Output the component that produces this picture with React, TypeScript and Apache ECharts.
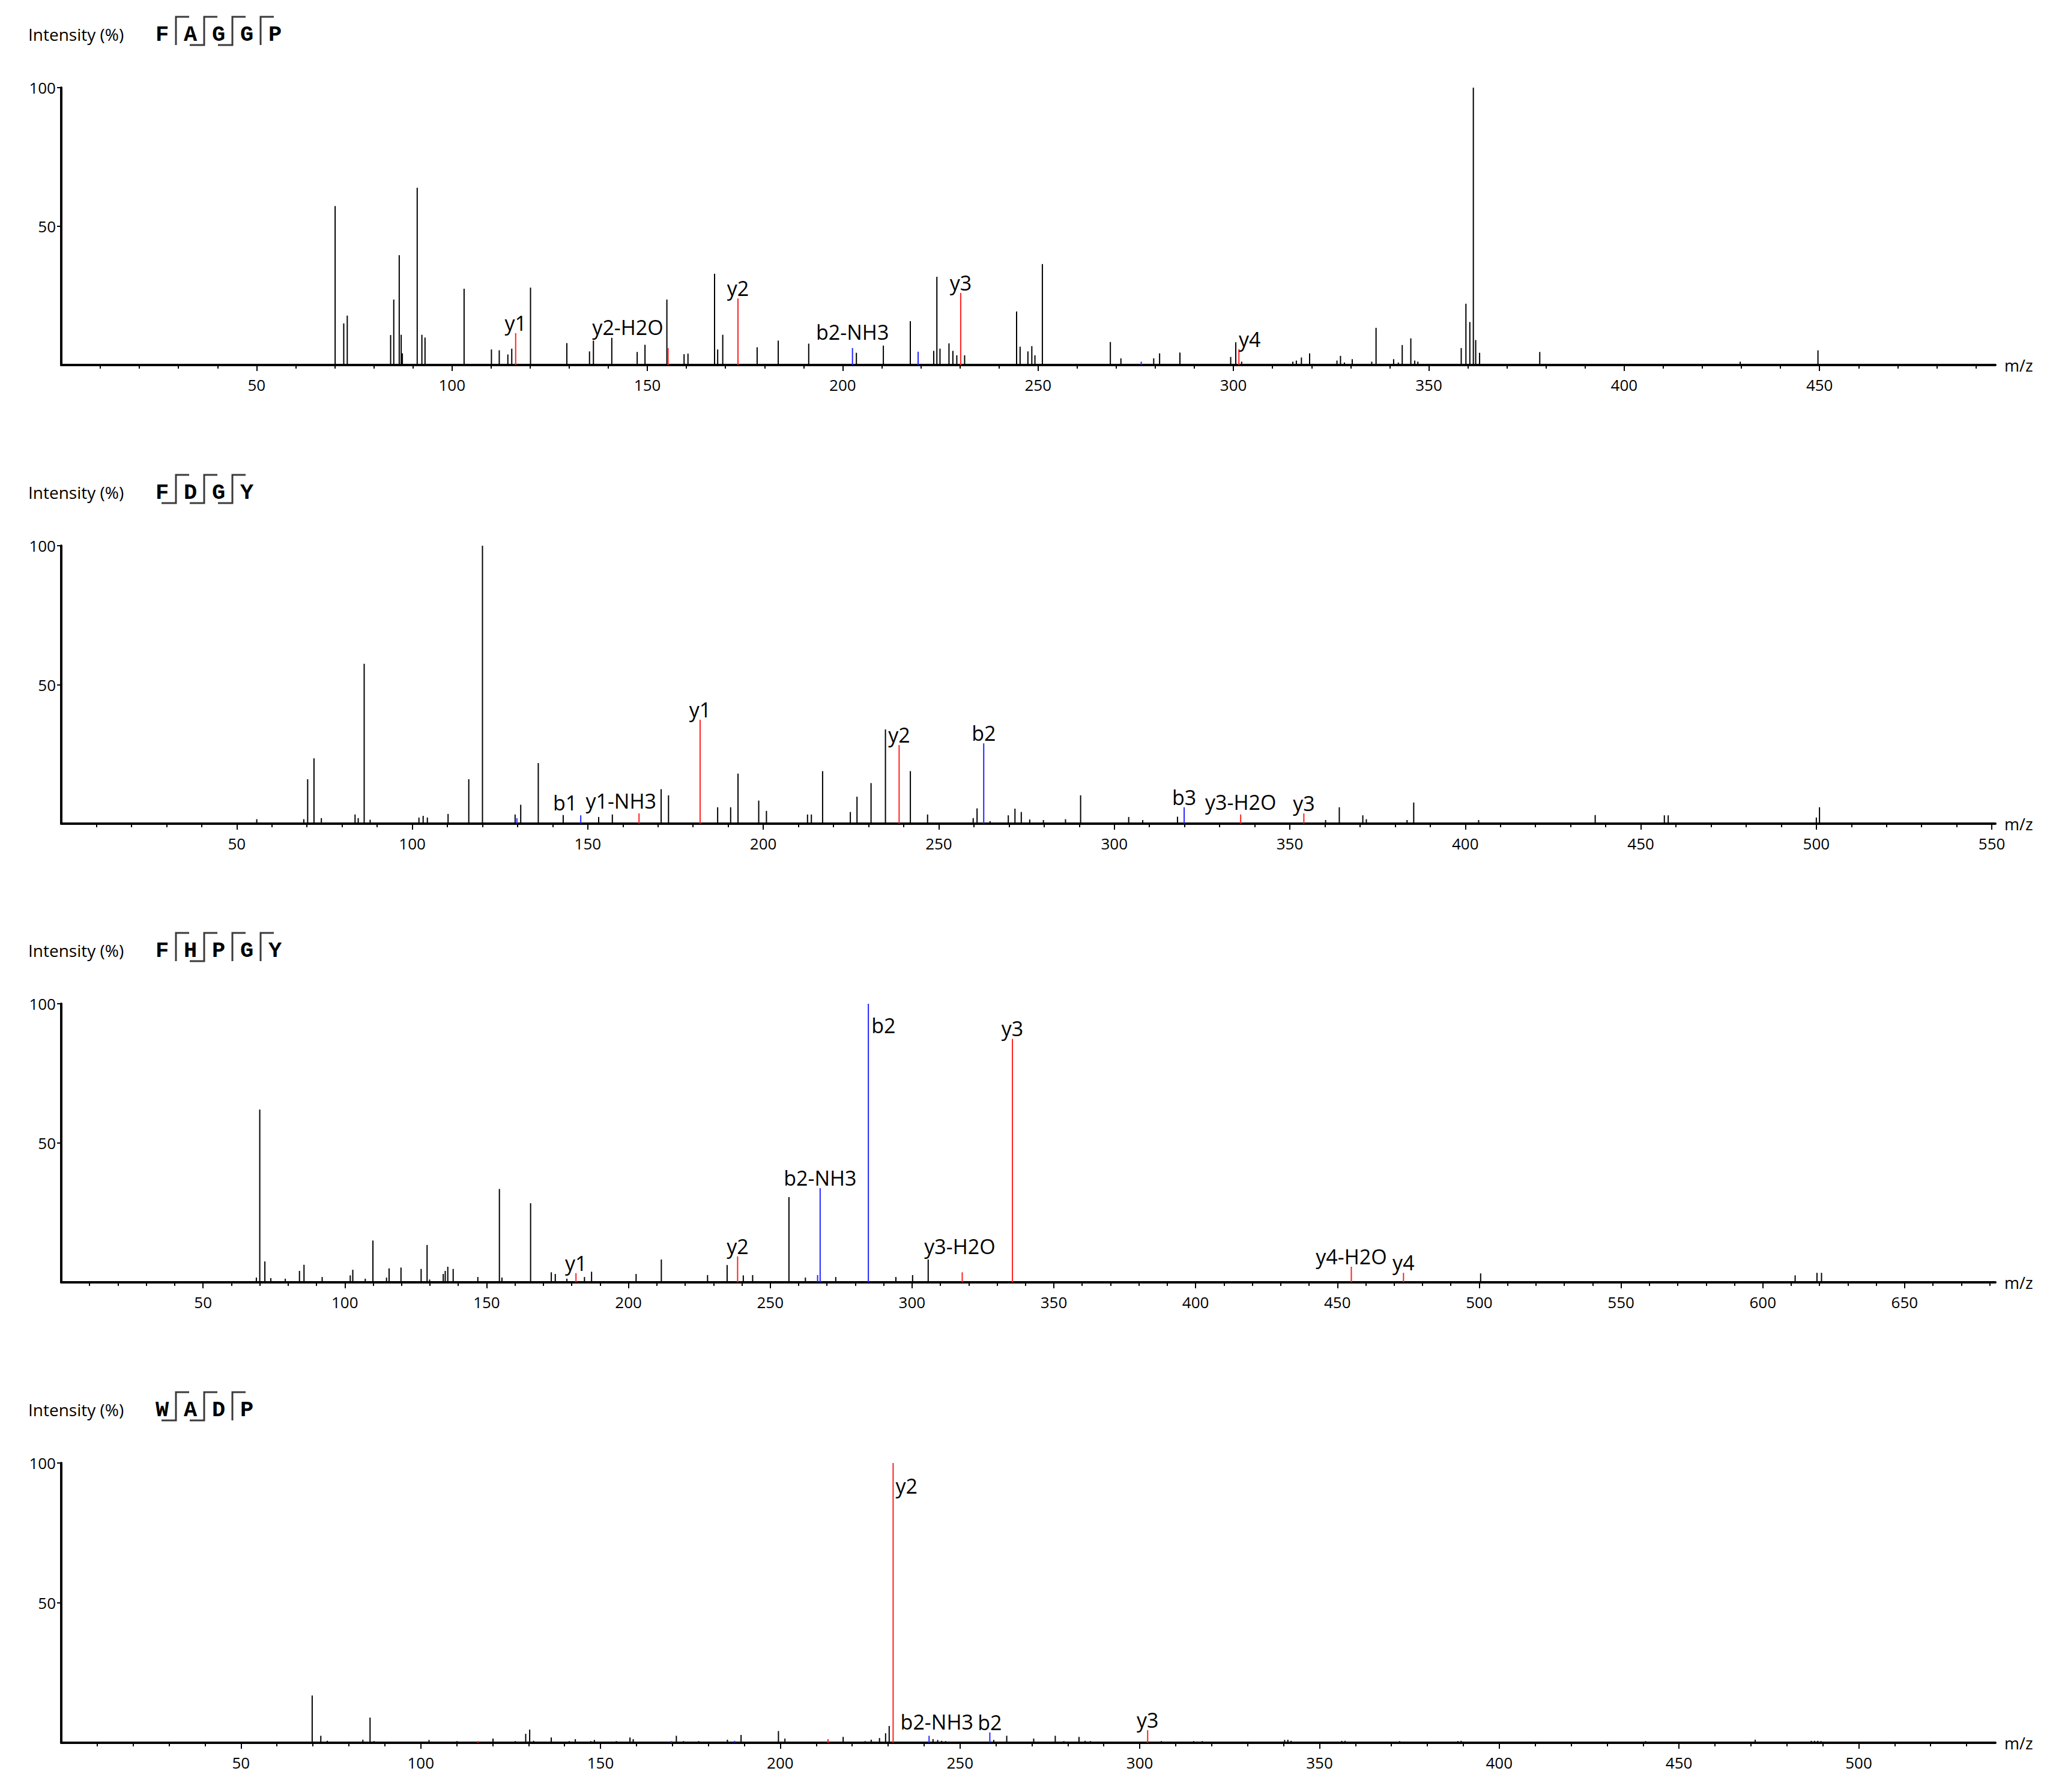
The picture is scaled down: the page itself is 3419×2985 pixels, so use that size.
import React, { useEffect, useRef } from "react";
import * as echarts from "echarts";

// ---------------- data ----------------
const peptides = ["FAGGP", "FDGY", "FHPGY", "WADP"];
// cleavage marks between residues: t = top bracket, b = bottom bracket
const cleavageMarks = [
  ["t", "tb", "tb", "t"],
  ["tb", "tb", "tb"],
  ["t", "tb", "t", "t"],
  ["tb", "tb", "t"],
];
const mzMax = [495, 551, 682, 538];
const yTickValues = [50, 100];

// Panel 1  FAGGP
const p1Peaks = [
  [70.1, 57.3], [72.3, 15.0], [73.2, 17.8], [84.3, 10.8], [85.1, 23.6], [86.5, 39.6], [87.0, 10.9], [87.3, 4.2],
  [91.1, 63.9], [92.3, 10.9], [93.1, 9.9], [103.1, 27.5], [110.1, 5.6], [112.1, 5.3], [114.3, 3.8], [115.3, 5.9],
  [120.1, 27.9], [129.4, 7.9], [135.2, 4.9], [136.2, 8.8], [140.9, 9.8], [147.4, 4.7], [149.4, 7.3], [155.0, 23.6],
  [159.4, 3.9], [160.4, 4.1], [167.2, 32.9], [168.0, 5.6], [169.3, 10.9], [178.1, 6.4], [183.5, 8.8], [191.3, 7.7],
  [203.5, 4.4], [210.4, 7.0], [217.3, 15.8], [223.3, 5.1], [224.1, 31.8], [224.9, 5.9], [227.2, 7.8], [228.2, 5.1],
  [229.2, 3.5], [231.2, 3.5], [244.5, 19.3], [245.4, 6.6], [247.4, 4.9], [248.4, 6.8], [249.2, 3.5], [251.1, 36.4],
  [268.5, 8.3], [271.2, 2.4], [279.6, 2.4], [281.1, 4.2], [286.3, 4.5], [299.3, 2.9], [300.6, 8.2], [302.1, 1.2],
  [315.2, 1.2], [316.1, 1.6], [317.4, 2.7], [319.5, 4.2], [326.5, 1.6], [327.4, 3.3], [328.4, 0.9], [330.4, 2.1],
  [335.4, 1.2], [336.5, 13.4], [341.0, 2.1], [342.2, 0.9], [343.2, 7.2], [345.4, 9.6], [346.4, 1.6], [347.2, 1.2],
  [358.3, 6.1], [359.5, 22.1], [360.5, 15.5], [361.4, 100], [362.0, 9.0], [363.0, 4.4], [378.4, 4.7], [429.7, 1.2],
  [449.6, 5.3],
];
const p1YIons = [[116.3, 11.5], [155.3, 6.1], [173.2, 24.0], [230.2, 26.0], [301.4, 5.7]];
const p1YLabels = ["y1", "y2-H2O", "y2", "y3", "y4"];
const p1BIons = [[202.5, 6.1], [219.3, 4.8], [276.4, 1.2]];
const p1BLabels = ["b2-NH3", "", ""];

// Panel 2  FDGY
const p2Peaks = [
  [55.7, 1.6], [69.1, 1.6], [70.2, 16.0], [72.0, 23.5], [74.1, 2.0], [83.7, 3.3], [84.6, 2.0], [86.3, 57.5],
  [88.0, 1.4], [101.9, 2.2], [103.1, 2.8], [104.3, 2.2], [110.2, 3.5], [116.1, 16.0], [120.0, 100], [129.3, 3.3],
  [130.9, 6.8], [135.9, 21.8], [143.0, 3.1], [153.1, 2.4], [157.0, 3.3], [170.9, 12.4], [173.0, 10.2], [187.0, 5.9],
  [190.7, 5.9], [192.8, 18.0], [198.7, 8.3], [200.9, 4.6], [212.6, 3.3], [213.7, 3.3], [216.9, 18.9], [224.8, 4.2],
  [226.7, 9.7], [230.7, 14.6], [234.8, 33.9], [241.9, 18.9], [246.8, 3.3], [259.8, 2.0], [260.9, 5.5], [264.6, 0.9],
  [269.8, 3.0], [271.7, 5.4], [273.5, 4.2], [275.9, 1.5], [279.8, 1.3], [286.1, 1.6], [290.4, 10.2], [304.1, 2.4],
  [308.1, 1.3], [318.0, 2.5], [360.2, 1.3], [364.1, 5.9], [370.8, 3.0], [371.8, 1.6], [383.4, 1.3], [385.3, 7.6],
  [403.8, 1.3], [437.0, 3.1], [456.7, 3.0], [457.8, 3.0], [500.0, 2.2], [500.9, 5.9],
];
const p2YIons = [[164.6, 3.7], [182.0, 37.4], [238.7, 28.3], [336.0, 3.3], [354.0, 3.7]];
const p2YLabels = ["y1-NH3", "y1", "y2", "y3-H2O", "y3"];
const p2BIons = [[129.8, 2.0], [148.0, 3.0], [262.8, 28.9], [319.9, 5.9]];
const p2BLabels = ["", "b1", "b2", "b3"];

// Panel 3  FHPGY
const p3Peaks = [
  [68.8, 1.7], [70.0, 62.0], [71.8, 7.5], [73.9, 1.5], [79.0, 1.3], [84.0, 4.1], [85.6, 6.3], [92.0, 1.9],
  [101.9, 2.5], [102.8, 4.5], [107.2, 1.3], [109.9, 15.0], [114.7, 1.7], [115.6, 5.0], [119.8, 5.3], [126.9, 4.8],
  [129.0, 13.4], [129.9, 1.0], [134.7, 3.0], [135.4, 4.1], [136.3, 5.6], [138.2, 4.8], [146.9, 1.9], [154.5, 33.5],
  [155.4, 1.7], [165.5, 28.4], [172.8, 3.6], [174.2, 3.0], [178.3, 1.3], [184.5, 1.9], [187.0, 3.8], [202.7, 3.0],
  [211.6, 8.2], [227.9, 2.6], [234.8, 6.2], [240.5, 2.5], [243.8, 2.6], [256.6, 30.6], [262.4, 1.7], [273.1, 1.9],
  [294.3, 1.9], [300.2, 2.6], [305.7, 8.2], [500.5, 3.2], [611.4, 2.5], [619.1, 3.4], [620.7, 3.4],
];
const p3YIons = [[181.5, 3.3], [238.5, 9.3], [317.7, 3.6], [335.4, 87.4], [454.9, 5.6], [473.3, 3.4]];
const p3YLabels = ["y1", "y2", "y3-H2O", "y3", "y4-H2O", "y4"];
const p3BIons = [[266.7, 2.6], [267.6, 33.8], [284.6, 100]];
const p3BLabels = ["", "b2-NH3", "b2"];

// Panel 4  WADP
const p4Peaks = [
  [69.8, 16.9], [72.2, 2.5], [74.0, 0.7], [83.9, 1.1], [85.9, 9.0], [87.0, 0.6], [102.3, 1.0], [110.1, 0.6],
  [120.1, 1.5], [126.3, 0.6], [129.2, 3.2], [130.3, 4.7], [131.4, 0.7], [136.3, 1.9], [141.3, 0.6], [143.0, 1.3],
  [147.3, 0.6], [148.3, 1.0], [154.4, 0.6], [158.2, 1.9], [159.1, 1.3], [171.1, 2.5], [173.1, 0.6], [177.3, 0.6],
  [185.3, 1.1], [189.1, 2.8], [199.5, 4.2], [201.3, 1.5], [217.5, 2.1], [223.6, 0.6], [225.3, 1.1], [227.6, 1.7],
  [229.3, 3.4], [230.3, 6.0], [242.5, 1.3], [243.8, 1.0], [244.9, 0.7], [246.0, 0.6], [259.4, 1.0], [263.0, 2.5],
  [270.5, 1.5], [276.5, 2.5], [278.9, 0.6], [283.1, 2.1], [284.8, 0.7], [286.3, 0.6], [306.0, 0.6], [315.0, 0.6],
  [317.4, 0.6], [340.3, 1.0], [341.2, 1.1], [342.1, 0.7], [356.2, 0.7], [357.1, 0.7], [372.3, 0.6], [388.5, 0.6],
  [389.4, 0.7], [440.7, 0.6], [471.2, 1.1], [486.8, 0.7], [487.7, 0.7], [488.6, 0.7], [489.5, 0.6],
];
const p4YIons = [[115.9, 0.6], [213.3, 1.3], [231.4, 100], [302.2, 4.5]];
const p4YLabels = ["", "", "y2", "y3"];
const p4BIons = [[169.7, 0.6], [187.3, 0.7], [241.4, 2.5], [258.3, 3.7]];
const p4BLabels = ["", "", "b2-NH3", "b2"];

// ---------------- layout / style ----------------
const W = 3403;
const H = 2969;
const GRID_LEFT = 94;
const GRID_RIGHT = 88;
const panelTops = [138, 901, 1664, 2429];
const panelHeights = [462, 463, 464, 466];
const FONT = '"Open Sans", "Noto Sans", sans-serif';
const ANN_FONT = '34px "Open Sans", "Noto Sans", sans-serif';
const SEQ_FONT = 'bold 37px "Liberation Mono", "DejaVu Sans Mono", monospace';
const RED = "#ff2020";
const BLUE = "#2424ff";
const BLACK = "#000000";

type Nudge = { dx?: number; dy?: number; side?: string };
const labelNudges: Record<string, Nudge>[] = [
  { "y2-H2O": { dx: -67, dy: -18 }, "b2-NH3": { dy: -10 }, y4: { dx: 18 } },
  { b1: { dx: -26, dy: -4 }, "y1-NH3": { dx: -30, dy: -4 }, "y3-H2O": { dy: -4 } },
  { b2: { side: "right", dx: 5, dy: 36 }, "y3-H2O": { dx: -4, dy: -26 } },
  { y2: { side: "right", dx: 4, dy: 38 }, "b2-NH3": { dx: 13, dy: -6 } },
];

const panels = [
  { black: p1Peaks, y: p1YIons, yl: p1YLabels, b: p1BIons, bl: p1BLabels },
  { black: p2Peaks, y: p2YIons, yl: p2YLabels, b: p2BIons, bl: p2BLabels },
  { black: p3Peaks, y: p3YIons, yl: p3YLabels, b: p3BIons, bl: p3BLabels },
  { black: p4Peaks, y: p4YIons, yl: p4YLabels, b: p4BIons, bl: p4BLabels },
];

function makeRender(color: string, labels: string[] | null, nudges: Record<string, Nudge>) {
  return (params: any, api: any) => {
    const mz = api.value(0);
    const it = api.value(1);
    const top = api.coord([mz, it]);
    const base = api.coord([mz, 0]);
    const children: any[] = [
      {
        type: "line",
        shape: { x1: top[0], y1: base[1], x2: top[0], y2: top[1] },
        style: { stroke: color, lineWidth: 2 },
      },
    ];
    const lab = labels ? labels[params.dataIndex] : "";
    if (lab) {
      const n = nudges[lab] || {};
      const right = n.side === "right";
      children.push({
        type: "text",
        x: top[0] + (n.dx || 0),
        y: top[1] + (n.dy || 0),
        style: {
          text: lab,
          font: ANN_FONT,
          fill: "#000",
          align: right ? "left" : "center",
          verticalAlign: right ? "middle" : "bottom",
        },
      });
    }
    return { type: "group", children };
  };
}

function multiples(step: number, max: number, skip?: number) {
  const out: number[] = [];
  for (let v = step; v <= max + 1e-9; v += step) {
    if (skip && v % skip === 0) continue;
    out.push(v);
  }
  return out;
}

function buildOption() {
  const grid: any[] = [];
  const xAxis: any[] = [];
  const yAxis: any[] = [];
  const series: any[] = [];
  const graphic: any[] = [];

  panels.forEach((p, i) => {
    grid.push({ left: GRID_LEFT, right: GRID_RIGHT, top: panelTops[i], height: panelHeights[i], containLabel: false });
    const majors = multiples(50, mzMax[i]);
    xAxis[i] = {
      type: "value",
      gridIndex: i,
      position: "bottom",
      min: 0,
      max: mzMax[i],
      interval: 50,
      name: "m/z",
      nameLocation: "end",
      nameGap: 15,
      nameTextStyle: { fontFamily: FONT, fontSize: 27, color: "#000", align: "left", verticalAlign: "middle", padding: [14, 0, 0, 0] },
      axisLine: { show: true, onZero: false, lineStyle: { color: "#000", width: 4 } },
      axisTick: { show: true, length: 10, lineStyle: { color: "#000", width: 2 }, customValues: majors },
      axisLabel: { show: true, fontFamily: FONT, fontSize: 26, color: "#000", margin: 20, customValues: majors },
      splitLine: { show: false },
    };
    xAxis[4 + i] = {
      type: "value",
      gridIndex: i,
      position: "bottom",
      min: 0,
      max: mzMax[i],
      interval: 10,
      axisLine: { show: false },
      axisTick: { show: true, length: 6, lineStyle: { color: "#000", width: 2 }, customValues: multiples(10, mzMax[i], 50) },
      axisLabel: { show: false },
      splitLine: { show: false },
    };
    yAxis.push({
      type: "value",
      gridIndex: i,
      min: 0,
      max: 100,
      interval: 50,
      axisLine: { show: true, onZero: false, lineStyle: { color: "#000", width: 4 } },
      axisTick: { show: true, length: 7, lineStyle: { color: "#000", width: 2 }, customValues: yTickValues },
      axisLabel: { show: true, fontFamily: FONT, fontSize: 26, color: "#000", margin: 9, customValues: yTickValues },
      splitLine: { show: false },
    });

    const nud = labelNudges[i];
    series.push({
      type: "custom",
      xAxisIndex: i,
      yAxisIndex: i,
      clip: false,
      z: 2,
      data: p.black,
      renderItem: makeRender(BLACK, null, nud),
    });
    series.push({
      type: "custom",
      xAxisIndex: i,
      yAxisIndex: i,
      clip: false,
      z: 3,
      data: p.y,
      renderItem: makeRender(RED, p.yl, nud),
    });
    series.push({
      type: "custom",
      xAxisIndex: i,
      yAxisIndex: i,
      clip: false,
      z: 3,
      data: p.b,
      renderItem: makeRender(BLUE, p.bl, nud),
    });

    // header
    const top = panelTops[i];
    const cy = top - 89;
    graphic.push({
      type: "text",
      x: 39,
      y: cy,
      style: { text: "Intensity (%)", font: `28px ${FONT}`, fill: "#000", align: "left", verticalAlign: "middle" },
    });
    const seq = peptides[i];
    for (let k = 0; k < seq.length; k++) {
      graphic.push({
        type: "text",
        x: 262 + 47 * k,
        y: cy + 1,
        style: { text: seq[k], font: SEQ_FONT, fill: "#000", align: "center", verticalAlign: "middle" },
      });
    }
    const marks = cleavageMarks[i];
    const yTop = top - 118;
    const yBot = top - 71;
    marks.forEach((m, k) => {
      const sx = 285 + 47 * k;
      const pts: number[][] = [];
      if (m.indexOf("t") >= 0) pts.push([sx + 22, yTop]);
      pts.push([sx, yTop]);
      pts.push([sx, yBot]);
      if (m.indexOf("b") >= 0) pts.push([sx - 24, yBot]);
      graphic.push({
        type: "polyline",
        shape: { points: pts },
        style: { stroke: "#3a3a3a", lineWidth: 3, fill: null },
      });
    });
  });

  return {
    animation: false,
    backgroundColor: "#ffffff",
    grid,
    xAxis,
    yAxis,
    series,
    graphic,
  };
}

export default function App() {
  const ref = useRef<HTMLDivElement>(null);
  useEffect(() => {
    const chart = echarts.init(ref.current as HTMLDivElement, null, { renderer: "svg" });
    chart.setOption(buildOption() as any);
    return () => chart.dispose();
  }, []);
  return <div ref={ref} style={{ width: W, height: H }} />;
}
